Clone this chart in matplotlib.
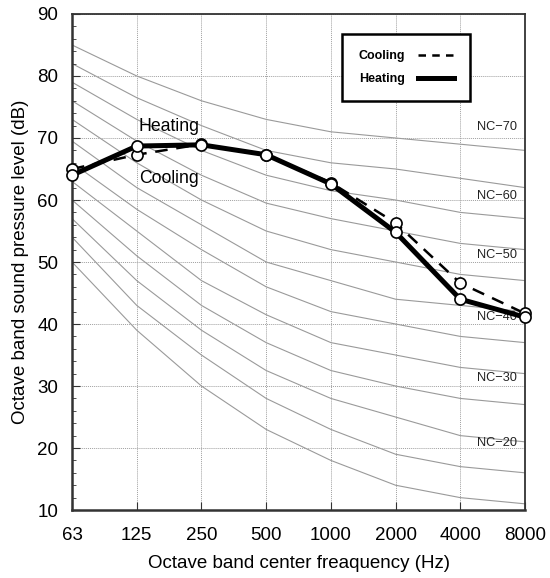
import numpy as np
import matplotlib.pyplot as plt
from matplotlib.lines import Line2D

plt.rcParams['font.family'] = ['Liberation Sans', 'DejaVu Sans']

# Octave bands
bands = ['63', '125', '250', '500', '1000', '2000', '4000', '8000']

# Measured sound pressure levels (dB)
cooling = [65.0, 67.3, 69.0, 67.3, 62.8, 56.3, 46.6, 41.7]
heating = [64.0, 68.7, 68.9, 67.3, 62.6, 54.8, 44.0, 41.1]

# NC reference curves as drawn in the chart
nc_names = ['NC-15', 'NC-20', 'NC-25', 'NC-30', 'NC-35', 'NC-40',
            'NC-45', 'NC-50', 'NC-55', 'NC-60', 'NC-65', 'NC-70']
nc_curves = [
    [50, 39, 30, 23, 18, 14, 12, 11],
    [54, 43, 35, 28, 23, 19, 17, 16],
    [57, 47, 39, 32.5, 28, 25, 22, 21],
    [60, 51, 43, 37, 32.5, 30, 28, 27],
    [63, 55, 47, 41.5, 37, 35, 33, 32],
    [66, 58.5, 52, 46, 42, 40, 38, 37],
    [69.5, 62, 56, 50, 47, 44, 43, 42],
    [73, 66, 60, 55, 52, 50, 48, 47],
    [76, 69.5, 64, 59.5, 57, 55, 53, 52],
    [79, 73, 68, 64, 61.5, 60, 58, 57],
    [82, 76.5, 72, 68, 66, 65, 63.5, 62],
    [85, 80, 76, 73, 71, 70, 69, 68],
]
# labels shown at the right side
nc_labels = ['NC\u221270', 'NC\u221260', 'NC\u221250', 'NC\u221240', 'NC\u221230', 'NC\u221220']
nc_label_y = [71.8, 60.6, 51.1, 41.1, 31.3, 20.8]

fig = plt.figure(figsize=(5.5, 5.78), dpi=100)
ax = fig.add_axes([0.131, 0.1176, 0.8235, 0.8582])

x = np.arange(len(bands))

for curve in nc_curves:
    ax.plot(x, curve, color='#9a9a9a', lw=0.8, zorder=1)

for name, yv in zip(nc_labels, nc_label_y):
    ax.text(6.56, yv, name, fontsize=9.2, ha='center', va='center',
            color='#222222', zorder=2)

ax.plot(x, cooling, color='black', lw=1.8, ls=(0, (5, 3.5)), zorder=3)
ax.plot(x, heating, color='black', lw=3.6, zorder=4)
ax.plot(x, cooling, ls='none', marker='o', ms=8, mfc='white', mec='black',
        mew=1.2, zorder=5, clip_on=False)
ax.plot(x, heating, ls='none', marker='o', ms=8, mfc='white', mec='black',
        mew=1.2, zorder=6, clip_on=False)

ax.text(1.03, 71.8, 'Heating', fontsize=12.7, ha='left', va='center')
ax.text(1.03, 63.4, 'Cooling', fontsize=12.7, ha='left', va='center')

# Legend
handles = [Line2D([], [], color='black', lw=1.8, ls=(0, (3, 2.5))),
           Line2D([], [], color='black', lw=3.6)]
leg = ax.legend(handles, ['Cooling', 'Heating'], loc='upper left',
                bbox_to_anchor=(0.583, 0.972), markerfirst=False,
                fancybox=False, framealpha=1, edgecolor='black',
                prop={'weight': 'bold', 'size': 9}, handlelength=2.9,
                borderpad=1.3, labelspacing=0.85, handletextpad=1.0)
leg.get_frame().set_linewidth(1.8)

ax.set_xlim(0, 7)
ax.set_ylim(10, 90)
ax.set_xticks(x)
ax.set_xticklabels(bands)
ax.set_yticks(np.arange(10, 91, 10))
ax.set_yticks(np.arange(10, 91, 2), minor=True)
ax.tick_params(axis='both', which='major', direction='in', length=6,
               labelsize=13.5, pad=10, color='#333333')
ax.tick_params(axis='x', which='major', pad=12)
ax.tick_params(axis='y', which='minor', direction='in', length=3,
               color='#333333')
ax.grid(True, which='major', color='#a0a0a0', ls=(0, (1, 1)), lw=0.7)
for s in ax.spines.values():
    s.set_color('#333333')
    s.set_linewidth(1.3)
ax.spines['left'].set_linewidth(1.8)
ax.spines['bottom'].set_linewidth(1.8)

ax.set_xlabel('Octave band center freaquency (Hz)', fontsize=13.5, labelpad=8)
ax.set_ylabel('Octave band sound pressure level (dB)', fontsize=13.5, labelpad=6)

fig.savefig('out.png', dpi=100)
